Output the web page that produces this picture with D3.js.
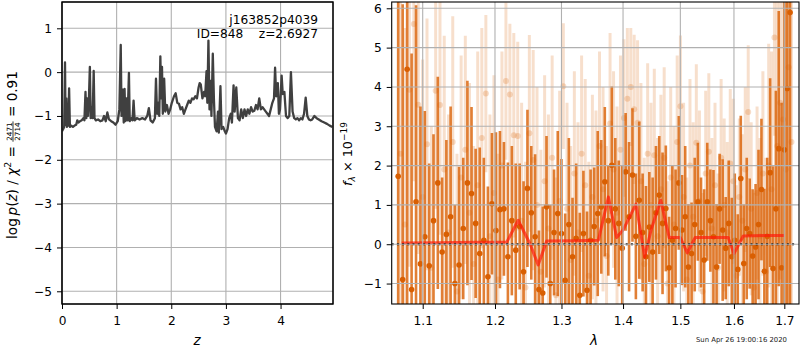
<!DOCTYPE html>
<html>
<head>
<meta charset="utf-8">
<script src="https://cdn.jsdelivr.net/npm/d3@7"></script>
<style>
  body { margin: 0; background: #fff; }
  svg { display: block; font-family: "DejaVu Sans", sans-serif; }
  text { white-space: pre; }
</style>
</head>
<body>
<svg id="chart" width="800" height="350"></svg>
<script>
// ---- left panel: redshift probability ----
const zGrid = [0.00, 0.02, 0.04, 0.055, 0.065, 0.08, 0.09, 0.105, 0.115, 0.13, 0.145, 0.17, 0.20, 0.23, 0.26, 0.28, 0.30, 0.33, 0.36, 0.39,
  0.41, 0.43, 0.445, 0.46, 0.475, 0.49, 0.51, 0.525, 0.545, 0.56, 0.58, 0.595, 0.62, 0.66, 0.70, 0.74, 0.77, 0.80, 0.83, 0.86,
  0.90, 0.94, 0.98, 1.02, 1.05, 1.075, 1.09, 1.11, 1.13, 1.145, 1.16, 1.18, 1.20, 1.225, 1.24, 1.27, 1.29, 1.31, 1.33, 1.37,
  1.42, 1.47, 1.52, 1.56, 1.59, 1.62, 1.66, 1.70, 1.72, 1.74, 1.76, 1.78, 1.80, 1.815, 1.83, 1.845, 1.87, 1.89, 1.92, 1.95,
  1.98, 2.01, 2.05, 2.08, 2.11, 2.14, 2.17, 2.20, 2.23, 2.26, 2.29, 2.32, 2.35, 2.38, 2.41, 2.44, 2.47, 2.50, 2.52, 2.54,
  2.57, 2.60, 2.62, 2.645, 2.66, 2.68, 2.70, 2.72, 2.735, 2.76, 2.78, 2.80, 2.83, 2.855, 2.87, 2.90, 2.92, 2.95, 2.98, 3.00,
  3.03, 3.06, 3.09, 3.11, 3.14, 3.16, 3.19, 3.22, 3.25, 3.28, 3.31, 3.34, 3.37, 3.40, 3.43, 3.46, 3.49, 3.52, 3.55, 3.58,
  3.61, 3.64, 3.67, 3.70, 3.73, 3.76, 3.79, 3.82, 3.85, 3.88, 3.90, 3.92, 3.95, 3.97, 3.99, 4.02, 4.04, 4.07, 4.10, 4.13,
  4.16, 4.19, 4.22, 4.25, 4.28, 4.31, 4.34, 4.37, 4.40, 4.43, 4.46, 4.49, 4.52, 4.55, 4.58, 4.62, 4.66, 4.70, 4.75, 4.80,
  4.85, 4.90, 4.95];
const logPz = [-1.35, -1.30, -1.25, 0.22, -1.20, -0.60, -1.25, -1.00, -1.22, -0.37, -1.25, -1.22, -1.25, -1.22, -1.20, -1.10, -1.15, -1.12, -1.10, -1.05,
  -1.10, -0.45, -1.05, -0.60, -1.00, -0.70, 0.12, -1.05, -0.80, -1.05, 0.03, -1.05, -1.10, -1.08, -1.12, -1.10, -1.00, -1.12, -0.92, -1.08,
  -1.12, -1.15, -1.20, -1.12, -0.85, 0.62, -1.00, -0.40, -1.15, -0.38, -1.12, -0.60, -1.10, -0.02, -1.12, -1.05, -1.10, -0.65, -1.10, -1.05,
  -1.08, -1.05, -1.08, -1.00, -0.82, -1.10, -1.15, -1.05, -0.15, -0.95, -0.70, -1.00, 0.36, -0.60, 0.12, -0.95, -0.15, -0.90, -0.75, -0.95,
  -0.85, -0.70, -0.55, -0.48, -0.70, -0.72, -0.85, -0.80, -0.95, -0.85, -0.75, -0.65, -0.70, -0.60, -0.62, -0.55, -0.60, -0.35, -0.25, -0.28,
  -0.60, -0.45, -0.55, 0.02, -0.70, 0.72, -0.85, -0.20, -1.00, 0.42, -0.60, -1.25, -1.35, -0.90, -1.38, -0.32, -1.30, -1.25, -1.35, -1.40,
  -1.30, -1.05, -0.95, -1.15, -0.30, -0.90, -0.35, -1.05, -1.10, -0.85, -1.05, -0.85, -1.00, -0.85, -0.95, -0.80, -0.90, -0.88, -0.75, -0.85,
  -0.60, -0.85, -0.80, -0.85, -0.90, -0.95, -1.00, -0.85, -0.70, -0.60, 0.10, -0.55, -0.25, -0.95, -0.85, -0.08, -0.50, -0.45, -1.00, -1.05,
  -1.00, 0.00, -0.90, -1.05, -1.08, -1.05, -1.10, -1.05, -1.08, -0.95, -0.58, -1.00, -1.08, -1.10, -1.08, -1.00, -1.05, -1.08, -1.12, -1.15,
  -1.18, -1.22, -1.25];
const zTicks = [0, 1, 2, 3, 4];
const pzTicks = [-5, -4, -3, -2, -1, 0, 1];
const objName = "j163852p4039";
const objInfo = "ID=848    z=2.6927";
const chi2Num = "2471", chi2Den = "2714", chi2Val = "0.91";

// ---- right panel: spectrum ----
const lamStep = 0.0058;
const darkLam0 = 1.068;
const darkFlux = [1.73, -0.9, 4.45, -1.15, 1.08, -0.5, 0.19, -0.55, 0.6, 1.56, -0.2, 0.25, 0.70, -1.0, -0.53, 0.4, 1.56, 1.29, 0.53, -0.24,
  0.1, -0.83, 1.03, 0.35, 0.88, 0.90, -0.32, 0.6, -0.15, 0.45, -0.7, 1.42, 0.8, 0.19, -1.15, -1.24, 0.95, -1.0, 0.3, 0.78,
  0.27, -0.92, 0.5, -0.32, 0.15, -1.3, 0.27, -1.17, 0.1, 0.45, 0.78, 0.95, 1.59, 0.6, 2.01, 0.9, 0.53, -0.1, 1.84, 0.7,
  1.76, 0.2, 1.12, 0.3, -0.32, 0.44, -0.2, 0.8, 1.25, 0.53, 0.91, -0.6, 0.1, 0.4, 1.56, 0.36, 0.7, -0.58, -0.24, 0.5,
  1.08, 0.3, -0.4, 1.08, 0.6, 0.19, -0.58, 0.9, 0.36, -0.1, 0.53, -0.32, 0.1, -0.64, 1.67, -0.49, 0.4, 0.27, -0.3, -0.07,
  0.5, 1.39, -0.69, 0.2, 1.82, -0.62, 0.9, 2.43, -0.6, 2.4, 3.96, 5.89];
const darkErr = [8.0, 7.0, 6.5, 6.0, 5.0, 4.0,
  3.2, 2.6, 2.2, 2.7, 1.9, 2.4, 2.8, 2.0, 2.5, 1.8, 2.6, 2.2, 1.9, 2.7, 2.1,
  2.3, 1.8, 2.5, 2.0, 1.7, 2.4, 1.9, 2.2, 1.6, 2.3, 2.0, 1.7, 2.1, 1.5, 2.2, 1.8, 2.0, 1.6, 2.1, 1.9,
  1.7, 2.2, 1.5, 1.9, 2.1, 1.6, 2.0, 1.8, 1.5, 2.1, 1.7, 1.9, 1.4, 2.0, 1.8, 1.6, 2.1, 1.5, 1.9, 1.7,
  1.6, 2.0, 1.5, 1.8, 1.4, 1.9, 1.7, 1.5, 1.8, 1.6, 1.3, 1.9, 1.5, 1.7, 1.4, 1.8, 1.6, 1.3, 1.7, 1.5,
  1.4, 1.8, 1.5, 1.3, 1.7, 1.6, 1.4, 1.8, 1.3, 1.6, 1.5, 1.7, 1.4, 1.6, 1.5, 1.8, 1.4, 1.7, 1.6, 1.9,
  1.8, 2.1, 2.0, 2.4, 2.6, 3.0, 3.5, 4.2, 5.0, 6.0, 7.5];
const lightLam0 = 1.0709;
const lightFlux = [2.3, 0.5, 3.93, 5.6, 3.55, 1.2, 2.54, -0.6, 3.9, 3.54, 1.9, 0.3, 2.6, -1.2, 1.7, 2.4, 0.8, -0.5, 1.5, 2.7,
  3.83, 0.2, 1.3, -0.9, 2.0, 4.15, 3.81, 2.77, 2.75, 0.6, -1.1, 2.82, 2.14, 1.0, -0.7, 1.6, 0.4, 2.2, -1.3, 1.1,
  4.02, 0.9, -0.4, 1.8, 0.3, 2.3, 1.5, -0.8, 1.2, 0.6, 2.5, 1.4, -0.3, 3.07, 1.9, 0.8, 2.4, 3.21, 3.7, 4.0,
  3.43, 3.09, 1.6, -0.5, 2.3, 1.0, 2.26, 0.2, 1.4, 2.2, -1.0, 1.7, 0.5, 2.6, 3.51, 1.2, -0.9, 2.0, 0.7, 2.58,
  1.1, -1.2, 1.8, 2.35, 0.4, 1.5, -0.6, 2.2, 1.0, 0.3, 2.05, 1.6, -0.8, 1.2, 0.6, 1.9, 3.36, 0.9, -1.1, 1.3,
  0.2, 1.8, -0.7, 2.0, 1.4, 5.26, 2.5, 3.6, 3.17, 1.9, 4.5, 2.6];
const lightErr = [5.5, 5.0, 4.5, 4.0, 3.8, 3.5, 3.2, 3.6, 3.0, 3.3, 3.4, 3.0, 3.2, 3.5, 3.1, 2.9, 3.3, 3.0, 3.4, 2.8,
  2.0, 3.1, 3.0, 3.2, 2.9, 2.0, 1.8, 2.6, 2.4, 3.0, 3.2, 2.5, 2.8, 3.0, 3.1, 2.7, 2.9, 2.6, 3.0, 2.8,
  1.6, 2.7, 2.9, 2.6, 2.8, 2.5, 2.7, 2.9, 2.6, 2.8, 2.4, 2.6, 2.8, 2.3, 2.5, 2.7, 2.4, 2.0, 1.8, 1.5,
  1.9, 2.1, 2.5, 2.7, 2.3, 2.6, 2.2, 2.5, 2.4, 2.3, 2.6, 2.3, 2.5, 2.2, 1.8, 2.4, 2.6, 2.2, 2.4, 2.0,
  2.3, 2.5, 2.1, 2.0, 2.3, 2.1, 2.4, 2.0, 2.2, 2.3, 1.9, 2.1, 2.3, 2.0, 2.2, 2.1, 1.7, 2.2, 2.4, 2.2,
  2.5, 2.6, 2.9, 3.1, 3.5, 2.5, 4.2, 4.5, 5.0, 5.5, 6.0, 6.5];
const modelLam = [1.0725, 1.12, 1.17, 1.217, 1.234, 1.252, 1.264, 1.277, 1.32, 1.359, 1.3755, 1.3893, 1.40, 1.422, 1.437, 1.448,
  1.465, 1.480, 1.500, 1.5126, 1.527, 1.56, 1.589, 1.600, 1.618, 1.66, 1.70];
const modelFlux = [0.03, 0.04, 0.05, 0.05, 0.61, 0.0, -0.53, 0.08, 0.09, 0.10, 1.2, 0.17, 0.36, 1.02, -0.33, 0.36,
  1.12, 0.17, 0.17, -0.22, 0.17, 0.17, 0.17, -0.24, 0.21, 0.22, 0.22];
const lamTicks = [1.1, 1.2, 1.3, 1.4, 1.5, 1.6, 1.7];
const fluxTicks = [-1, 0, 1, 2, 3, 4, 5, 6];
const stamp = "Sun Apr 26 19:00:16 2020";

const fontSize = 12.2;
const labelSize = 13.6;
const gridColor = "#b0b0b0";
const orange = "#d95f02";

const svg = d3.select("#chart");
const yTop = 2, yBottom = 304;

function axes(x, y, xt, yt, xfmt, gridOnTop) {
  const grid = svg.append("g");
  grid.selectAll(null).data(xt).enter().append("line")
    .attr("x1", d => x(d)).attr("x2", d => x(d)).attr("y1", yTop).attr("y2", yBottom)
    .attr("stroke", gridColor).attr("stroke-width", 1.1);
  grid.selectAll(null).data(yt).enter().append("line")
    .attr("x1", x.range()[0]).attr("x2", x.range()[1]).attr("y1", d => y(d)).attr("y2", d => y(d))
    .attr("stroke", gridColor).attr("stroke-width", 1.1);
  if (!gridOnTop) grid.lower();

  const xa = svg.append("g").attr("transform", `translate(0,${yBottom})`)
    .call(d3.axisBottom(x).tickValues(xt).tickFormat(xfmt).tickSize(5).tickPadding(7));
  const ya = svg.append("g").attr("transform", `translate(${x.range()[0]},0)`)
    .call(d3.axisLeft(y).tickValues(yt).tickFormat(d3.format("d")).tickSize(5).tickPadding(5));
  [xa, ya].forEach(a => {
    a.select(".domain").remove();
    a.selectAll("text").attr("font-size", fontSize).attr("font-family", "DejaVu Sans").attr("fill", "#000");
    a.selectAll("line").attr("stroke", "#000").attr("stroke-width", 1);
  });
  svg.append("rect")
    .attr("x", x.range()[0]).attr("y", yTop)
    .attr("width", x.range()[1] - x.range()[0]).attr("height", yBottom - yTop)
    .attr("fill", "none").attr("stroke", "#000").attr("stroke-width", 1.1);
}

// ---------- left panel ----------
const xz = d3.scaleLinear().domain([0, 4.96]).range([62, 333]);
const yp = d3.scaleLinear().domain([-5.29, 1.6]).range([yBottom, yTop]);

const defs = svg.append("defs");
defs.append("clipPath").attr("id", "clipL")
  .append("rect").attr("x", 62).attr("y", yTop).attr("width", 271).attr("height", yBottom - yTop);

axes(xz, yp, zTicks, pzTicks, d3.format("d"), false);
svg.append("path")
  .datum(zGrid.map((z, i) => [z, logPz[i]]))
  .attr("clip-path", "url(#clipL)")
  .attr("fill", "none").attr("stroke", "#404040").attr("stroke-width", 2.3)
  .attr("stroke-linejoin", "round")
  .attr("d", d3.line().x(d => xz(d[0])).y(d => yp(d[1])));
svg.append("rect").attr("x", 62).attr("y", yTop).attr("width", 271).attr("height", yBottom - yTop)
  .attr("fill", "none").attr("stroke", "#000").attr("stroke-width", 1.1);

svg.append("text").attr("x", 318).attr("y", 24).attr("text-anchor", "end")
  .attr("font-size", fontSize).text(objName);
svg.append("text").attr("x", 318).attr("y", 38).attr("text-anchor", "end")
  .attr("font-size", fontSize).text(objInfo);

svg.append("text").attr("x", 197).attr("y", 345).attr("text-anchor", "middle")
  .attr("font-size", labelSize).attr("font-style", "italic").text("z");

// left y label with the chi2 fraction
const yl = svg.append("g").attr("transform", "translate(17,155) rotate(-90)");
const t1 = yl.append("text").attr("font-size", labelSize);
t1.append("tspan").text("log\u2009");
t1.append("tspan").attr("font-style", "italic").text("p");
t1.append("tspan").text("(");
t1.append("tspan").attr("font-style", "italic").text("z");
t1.append("tspan").text(") / ");
t1.append("tspan").attr("font-style", "italic").text("χ");
t1.append("tspan").attr("font-size", 9.5).attr("dy", -6).text("2");
t1.append("tspan").attr("dy", 6).text(" = ");
const w1 = t1.node().getComputedTextLength();
const fnum = yl.append("text").attr("font-size", 7.2).text(chi2Num);
const fden = yl.append("text").attr("font-size", 7.2).text(chi2Den);
const wf = Math.max(fnum.node().getComputedTextLength(), fden.node().getComputedTextLength()) + 2;
const t3 = yl.append("text").attr("font-size", labelSize).text(" = " + chi2Val);
const w3 = t3.node().getComputedTextLength();
const x0 = -(w1 + wf + w3) / 2;
t1.attr("x", x0).attr("y", 0);
fnum.attr("x", x0 + w1 + wf / 2).attr("y", -5.5).attr("text-anchor", "middle");
fden.attr("x", x0 + w1 + wf / 2).attr("y", 2.8).attr("text-anchor", "middle");
yl.append("line").attr("x1", x0 + w1).attr("x2", x0 + w1 + wf).attr("y1", -4).attr("y2", -4)
  .attr("stroke", "#000").attr("stroke-width", 0.8);
t3.attr("x", x0 + w1 + wf).attr("y", 0);

// ---------- right panel ----------
const xl = d3.scaleLog().domain([1.0597, 1.7303]).range([391.7, 799]);
const yf = d3.scaleLinear().domain([-1.52, 6.16]).range([yBottom, yTop]);

defs.append("clipPath").attr("id", "clipR")
  .append("rect").attr("x", 391.7).attr("y", yTop).attr("width", 799 - 391.7).attr("height", yBottom - yTop);

const gR = svg.append("g").attr("clip-path", "url(#clipR)");

function spectrum(lam0, flux, err, opacity, barOpacity, barW, r) {
  const pts = flux.map((f, i) => ({ lam: lam0 + i * lamStep, f: f, e: err[i] }));
  const g = gR.append("g");
  g.selectAll(null).data(pts).enter().append("line")
    .attr("x1", d => xl(d.lam)).attr("x2", d => xl(d.lam))
    .attr("y1", d => yf(d.f - d.e)).attr("y2", d => yf(d.f + d.e))
    .attr("stroke", orange).attr("stroke-width", barW).attr("stroke-opacity", barOpacity);
  g.selectAll(null).data(pts).enter().append("circle")
    .attr("cx", d => xl(d.lam)).attr("cy", d => yf(d.f)).attr("r", r)
    .attr("fill", orange).attr("fill-opacity", opacity);
}
spectrum(lightLam0, lightFlux, lightErr, 0.22, 0.2, 3, 3);
spectrum(darkLam0, darkFlux, darkErr, 1, 0.8, 2.6, 2.8);

gR.append("path")
  .datum(modelLam.map((l, i) => [l, modelFlux[i]]))
  .attr("fill", "none").attr("stroke", "#ff1a0a").attr("stroke-opacity", 0.7)
  .attr("stroke-width", 3).attr("stroke-linejoin", "round")
  .attr("d", d3.line().x(d => xl(d[0])).y(d => yf(d[1])));

gR.append("line")
  .attr("x1", xl(1.0597)).attr("x2", xl(1.7256)).attr("y1", yf(0)).attr("y2", yf(0))
  .attr("stroke", "#000").attr("stroke-width", 2).attr("stroke-dasharray", "2,3.2");

axes(xl, yf, lamTicks, fluxTicks, d3.format(".1f"), true);

svg.append("text").attr("x", 594).attr("y", 345).attr("text-anchor", "middle")
  .attr("font-size", labelSize).attr("font-style", "italic").text("λ");

const yr = svg.append("text").attr("transform", "translate(352,154) rotate(-90)")
  .attr("text-anchor", "middle").attr("font-size", fontSize + 0.6);
yr.append("tspan").attr("font-style", "italic").text("f");
yr.append("tspan").attr("font-style", "italic").attr("font-size", 9).attr("dy", 3).text("λ");
yr.append("tspan").attr("dy", -3).text(" × 10");
yr.append("tspan").attr("font-size", 9).attr("dy", -5.5).text("−19");

svg.append("text").attr("x", 787).attr("y", 342).attr("text-anchor", "end")
  .attr("font-size", 6.9).attr("fill", "#222").text(stamp);
</script>
</body>
</html>
